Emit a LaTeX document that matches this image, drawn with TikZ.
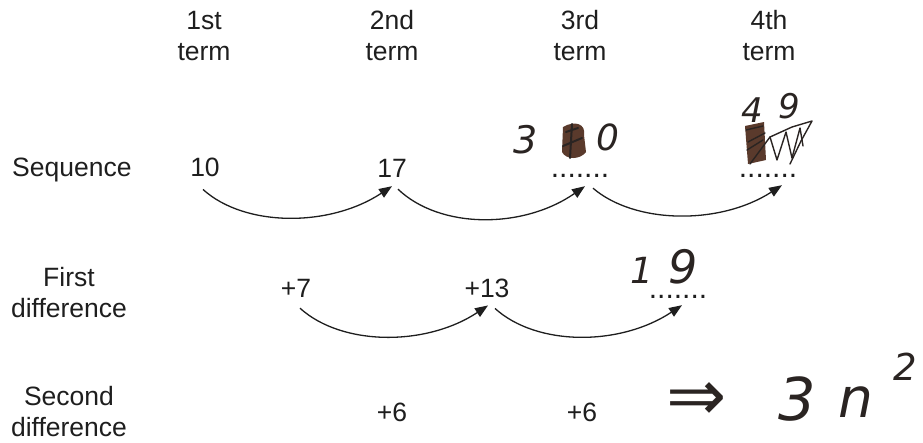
\documentclass[tikz,border=0pt]{standalone}
\usepackage{fontspec}
\newfontfamily\arial{Liberation Sans}
\newfontfamily\handf{DejaVu Sans}
\usetikzlibrary{arrows.meta,calc}
\definecolor{ink}{HTML}{1E1E1E}
\definecolor{pen}{HTML}{2A2422}
\definecolor{scrib}{HTML}{5A3A2C}
\begin{document}
\begin{tikzpicture}[x=1pt,y=-1pt,
 lbl/.style={font=\arial\fontsize{26.5}{31}\selectfont, text=ink, inner sep=0pt, align=center, anchor=base},
 val/.style={font=\arial\fontsize{26.5}{31}\selectfont, text=ink, inner sep=0pt, anchor=base},
 dotsn/.style={font=\arial\fontsize{30}{31}\selectfont, text=ink, inner sep=0pt, anchor=base, text height=4pt, text depth=0pt},
 hand/.style={text=pen, inner sep=0pt, anchor=base},
 arr/.style={draw=ink, line width=1.3pt, -{Triangle[length=13pt,width=10pt]}},
 penline/.style={draw=pen, line width=1.4pt, line join=round, line cap=round},
]
\useasboundingbox (0,0) rectangle (923,442);

% column headers
\node[lbl] (h1) at (204,60) {1st\\term};
\node[lbl] (h2) at (392,60) {2nd\\term};
\node[lbl] (h3) at (580,60) {3rd\\term};
\node[lbl] (h4) at (769,60) {4th\\term};

% row labels
\node[val, anchor=base west] (seq) at (12,176) {Sequence};
\node[lbl] (fd) at (69,317) {First\\difference};
\node[lbl] (sd) at (69,436) {Second\\difference};

% sequence row
\node[val] (n10) at (205,176) {10};
\node[val] (n17) at (392,177) {17};
\node[dotsn] (d3) at (580,177) {.......};
\node[dotsn] (d4) at (768,177) {.......};

% first difference row
\node[val] (n7) at (296,297) {+7};
\node[val] (n13) at (487,297) {+13};
\node[dotsn] (d19) at (678,298) {.......};

% second difference row
\node[val] (s1) at (392,421) {+6};
\node[val] (s2) at (582,421) {+6};

% arrows
\draw[arr] ([shift={(-2,13)}]n10.south) .. controls +(42,38) and +(-62,41) .. ([shift={(0,9)}]n17.south);
\draw[arr] ([shift={(6,12)}]n17.south) .. controls +(42,40) and +(-62,43) .. ([shift={(5,9)}]d3.south);
\draw[arr] ([shift={(13,11)}]d3.south) .. controls +(42,36) and +(-62,40) .. ([shift={(14,8)}]d4.south);
\draw[arr] ([shift={(4,11)}]n7.south) .. controls +(42,38) and +(-62,41) .. ([shift={(1,8)}]n13.south);
\draw[arr] ([shift={(8,11)}]n13.south) .. controls +(42,38) and +(-62,41) .. ([shift={(4,7)}]d19.south);

% handwritten answers
\node[hand, font=\handf\itshape\fontsize{38}{40}\selectfont] (a3) at (526,153) {3};
\fill[scrib] (563,127) .. controls (575,120) and (586,124) .. (584,135) -- (586,152) .. controls (580,160) and (566,160) .. (562,152) -- cycle;
\draw[draw=pen, line width=2pt, line cap=round] (566,132) -- (578,128) (563,146) -- (582,138) (572,124) -- (570,158);
\node[hand, font=\handf\itshape\fontsize{36}{40}\selectfont] (a0) at (608,150) {0};

\node[hand, font=\handf\itshape\fontsize{34}{40}\selectfont] (b4) at (752,122) {4};
\node[hand, font=\handf\itshape\fontsize{34}{40}\selectfont] (b9) at (789,118) {9};
\fill[scrib] (745,126) -- (764,122) -- (766,160) -- (748,164) -- cycle;
\draw[penline] (750,164) -- (770,137) -- (792,127) -- (812,121) -- (801,141) -- (790,164);
\draw[penline] (770,137) -- (777,160) -- (786,132) -- (792,158) -- (800,128) -- (803,146);
\draw[penline] (746,130) -- (763,126) (747,150) -- (763,140) (748,142) -- (765,133);

\node[hand, font=\handf\itshape\fontsize{36}{40}\selectfont] (c1) at (642,283) {1};
\node[hand, font=\handf\itshape\fontsize{46}{50}\selectfont] (c9) at (683,283) {9};

\node[hand, anchor=center, font=\handf\fontsize{72}{80}\selectfont] (imp) at (697,402) {⇒};
\node[hand, font=\handf\itshape\fontsize{59}{64}\selectfont] (e3) at (797,420) {3};
\node[hand, font=\handf\itshape\fontsize{55}{60}\selectfont] (en) at (856,417) {n};
\node[hand, font=\handf\itshape\fontsize{37}{40}\selectfont] (e2) at (905,380) {2};
\end{tikzpicture}
\end{document}
